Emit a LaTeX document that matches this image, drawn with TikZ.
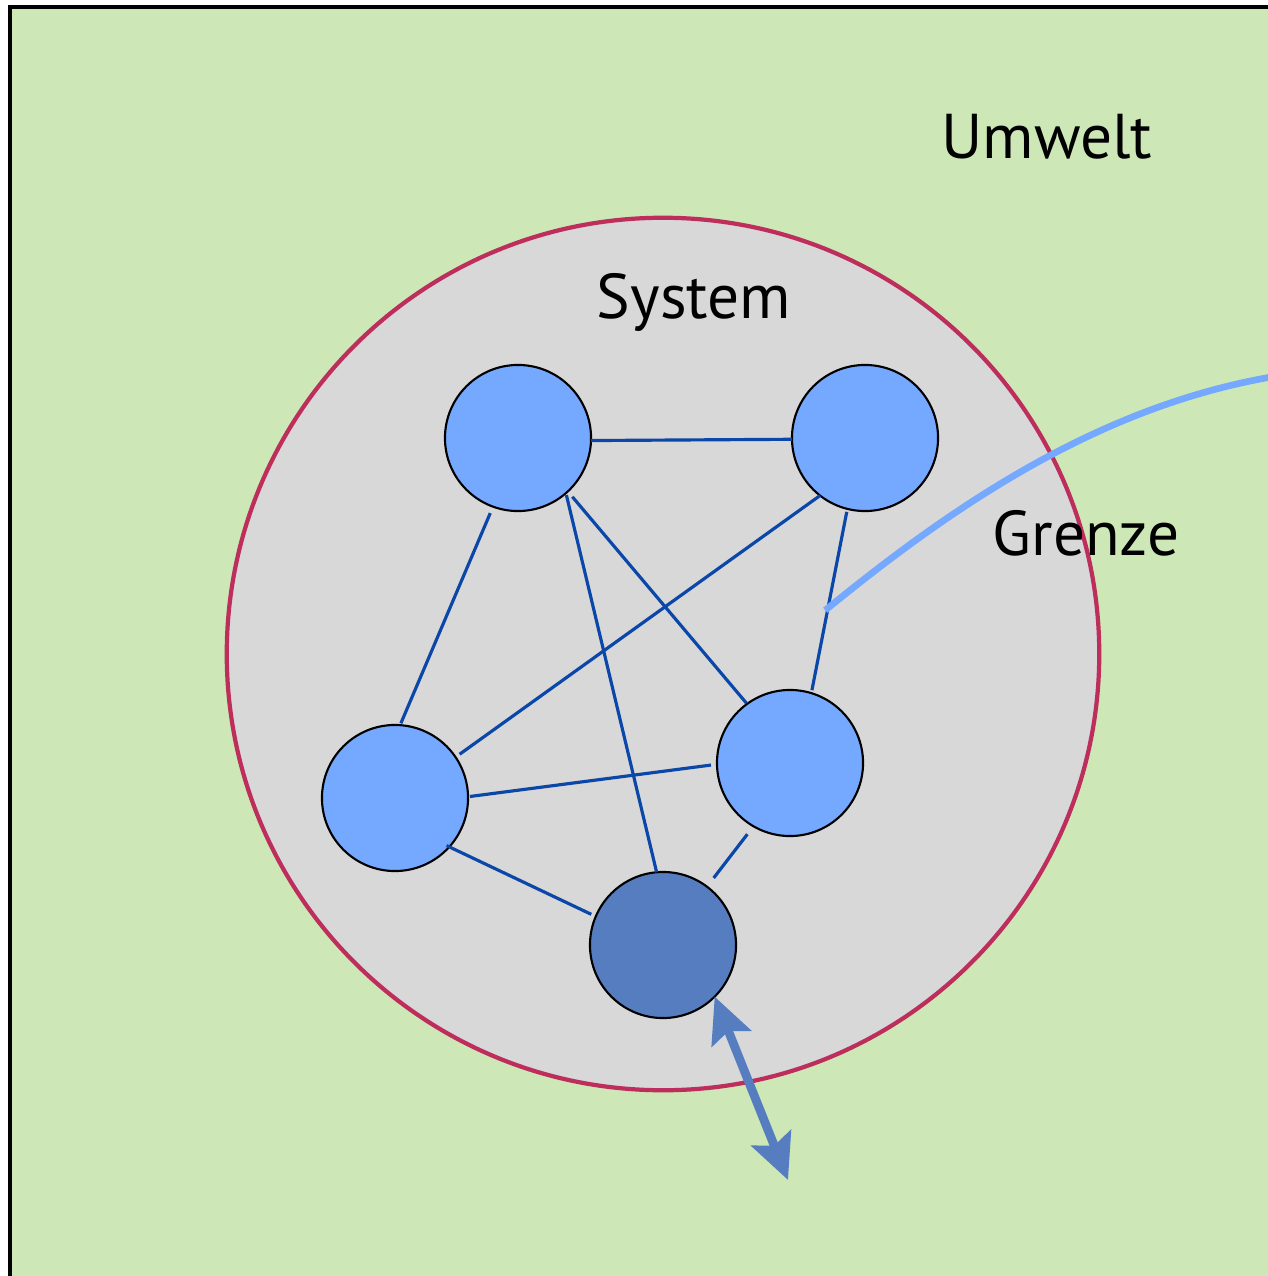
\documentclass[tikz,border=0pt]{standalone}
\usepackage{fontspec}
\setmainfont{PT Sans}
\usetikzlibrary{arrows.meta,calc}
\definecolor{umweltgreen}{HTML}{CDE8B6}
\definecolor{systemgray}{HTML}{D8D8D8}
\definecolor{grenzered}{HTML}{BE2E5C}
\definecolor{elemblue}{HTML}{75A8FF}
\definecolor{coreblue}{HTML}{557DC0}
\definecolor{linkblue}{HTML}{0A47A8}
\begin{document}
\begin{tikzpicture}[x=0.01cm, y=-0.01cm,
  elem/.style={circle, draw=black, line width=0.6pt, fill=elemblue,
    minimum size=1.46cm, inner sep=0pt, outer sep=0pt},
  link/.style={draw=linkblue, line width=0.9pt},
  label/.style={font=\fontsize{18}{22}\selectfont, inner sep=0pt}]
  \useasboundingbox (0,0) rectangle (1268,1276);

  % Umwelt
  \fill[umweltgreen] (10,7) rectangle (1268,1276);
  \draw[line width=0.9pt] (10,1276) -- (10,7) -- (1268,7);
  \node[label] (umwelt) at (1047,137) {Umwelt};

  % System mit Grenze
  \draw[grenzered, fill=systemgray, line width=1.2pt] (663,654) circle (4.36cm);
  \node[label] (system) at (694,302) {System};
  \node[label] (grenze) at (1086,533) {Grenze};

  % Elemente
  \node[elem] (A) at (518,438) {};
  \node[elem] (B) at (865,438) {};
  \node[elem] (C) at (395,798) {};
  \node[elem] (D) at (790,763) {};
  \node[elem, fill=coreblue] (E) at (663,945) {};

  % Beziehungen
  \draw[link] (A.-2) -- (B.181);
  \draw[link, shorten <=0.7mm, shorten >=0.2mm] (A.-110) -- (C.86);
  \draw[link, shorten <=0.7mm, shorten >=0.1mm] (A.-47.5) -- (D.126);
  \draw[link, shorten <=0.2mm] (A.-49.5) -- (E.95);
  \draw[link, shorten >=0.5mm] (B.232) -- (C.34);
  \draw[link, shorten <=0.3mm, shorten >=0.3mm] (B.-104) -- (D.73);
  \draw[link, shorten <=0.2mm, shorten >=0.6mm] (C.1) -- (D.181);
  \draw[link, shorten <=-0.3mm, shorten >=0.5mm] (C.-42) -- (E.157);
  \draw[link, shorten <=1mm, shorten >=1.1mm] (D.-120) -- (E.53);

  % Zeiger auf die Grenze
  \coordinate (tap) at ($(B)!0.53!(D)$);
  \coordinate (rim) at (1290,374);
  \draw[elemblue, line width=1.9pt] (tap) .. controls (960,500) and (1110,400) .. (rim);

  % Austausch mit der Umwelt
  \coordinate (out) at (788,1180);
  \draw[coreblue, line width=2.5pt,
    {Stealth[length=4.5mm, width=4.2mm, inset=0.8mm]}-{Stealth[length=4.5mm, width=4.2mm, inset=0.8mm]}]
    (E.-45) -- (out);
\end{tikzpicture}
\end{document}
